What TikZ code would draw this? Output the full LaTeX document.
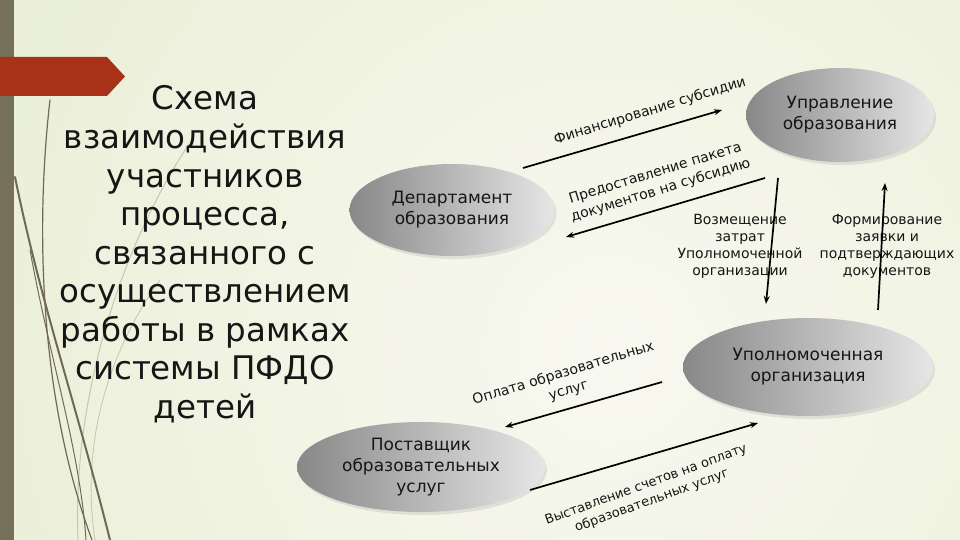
\documentclass[tikz,border=0pt]{standalone}
\usepackage{fontspec}
\setmainfont{DejaVu Sans}
\usetikzlibrary{shapes.geometric,arrows.meta,shadows}
\definecolor{bgout}{RGB}{226,234,200}
\definecolor{bgin}{RGB}{248,248,240}
\definecolor{barc}{RGB}{118,112,90}
\definecolor{redc}{RGB}{168,50,24}
\definecolor{grassc}{RGB}{112,106,82}
\definecolor{grasslt}{RGB}{196,200,172}
\definecolor{ellL}{RGB}{136,136,136}
\definecolor{ellR}{RGB}{230,230,230}
\definecolor{txt}{RGB}{22,22,22}
\begin{document}
\begin{tikzpicture}[x=1pt,y=-1pt,
  oval/.style={ellipse, left color=ellL, right color=ellR, draw=none, align=center,
    font=\fontsize{17}{21}\selectfont, text=txt, inner sep=0pt,
    drop shadow={opacity=0.18,shadow xshift=2pt,shadow yshift=-3pt}},
  lab/.style={font=\fontsize{14}{18}\selectfont, align=center, text=txt, inner sep=0pt},
  side/.style={font=\fontsize{14}{17}\selectfont, align=center, text=txt, inner sep=0pt},
  ttl/.style={font=\fontsize{32.5}{38}\selectfont, text=txt, inner sep=0pt, anchor=base},
  conn/.style={line width=1.7pt, black, -{Stealth[length=8pt,width=6pt]}},
  grass/.style={draw=grassc, line cap=round},
  grasslight/.style={draw=grasslt, line cap=round},
]
\useasboundingbox (0,0) rectangle (960,540);
% background
\fill[bgout] (0,0) rectangle (960,540);
\begin{scope}
  \clip (0,0) rectangle (960,540);
  \shade[inner color=bgin, outer color=bgout] (610,350) circle (1100pt);
\end{scope}
% left bar and decoration
\fill[barc] (0,0) rectangle (14,540);
\draw[grasslight, line width=1pt] (187,147) .. controls (120,250) and (72,400) .. (78,540);
\draw[grasslight, line width=0.8pt] (160,280) .. controls (110,350) and (80,440) .. (95,540);
\draw[grass, line width=2pt] (15,177) .. controls (40,300) and (75,400) .. (110,540);
\draw[grass, line width=1.2pt] (50,100) .. controls (35,230) and (40,400) .. (92,540);
\draw[grass, line width=1pt] (30,250) .. controls (50,360) and (80,450) .. (86,540);
% red banner
\fill[redc] (0,57) -- (107,57) -- (125,76.5) -- (107,96) -- (0,96) -- cycle;
% title
\foreach \t [count=\i] in {Схема, взаимодействия, участников, {процесса,}, связанного с,
  осуществлением, работы в рамках, системы ПФДО, детей}
  \node[ttl] (t\i) at (205,{110+(\i-1)*38.5}) {\t};
% ellipses
\node[oval, minimum width=188pt, minimum height=94pt] (upr) at (840,115) {Управление\\образования};
\node[oval, minimum width=205pt, minimum height=92pt] (dep) at (452,210) {Департамент\\образования};
\node[oval, minimum width=250pt, minimum height=98pt] (upo) at (808,367) {Уполномоченная\\организация};
\node[oval, minimum width=248pt, minimum height=90pt] (pos) at (421,467) {Поставщик\\образовательных\\услуг};
% labels
\node[lab, rotate=17] (l1) at (650,111) {Финансирование субсидии};
\node[lab, rotate=17] (l2) at (658,182) {Предоставление пакета\\документов на субсидию};
\node[side] (l3) at (740,246) {Возмещение\\затрат\\Уполномоченной\\организации};
\node[side] (l4) at (887,246) {Формирование\\заявки и\\подтверждающих\\документов};
\node[lab, rotate=17] (l5) at (566,382) {Оплата образовательных\\услуг};
\node[lab, font=\fontsize{13}{17}\selectfont, rotate=20] (l6) at (649,493) {Выставление счетов на оплату\\образовательных услуг};
% connector ends
\coordinate (a1s) at (523,168); \coordinate (a1e) at (722,110);
\coordinate (a2s) at (765,178); \coordinate (a2e) at (566,237);
\coordinate (a3s) at (778,178); \coordinate (a3e) at (766,304);
\coordinate (a4s) at (878,310); \coordinate (a4e) at (885,183);
\coordinate (a5s) at (662,382); \coordinate (a5e) at (505,427);
\coordinate (a6s) at (530,490); \coordinate (a6e) at (758,423);
\draw[conn] (a1s) -- (a1e);
\draw[conn] (a2s) -- (a2e);
\draw[conn] (a3s) -- (a3e);
\draw[conn] (a4s) -- (a4e);
\draw[conn] (a5s) -- (a5e);
\draw[conn] (a6s) -- (a6e);
\end{tikzpicture}
\end{document}
